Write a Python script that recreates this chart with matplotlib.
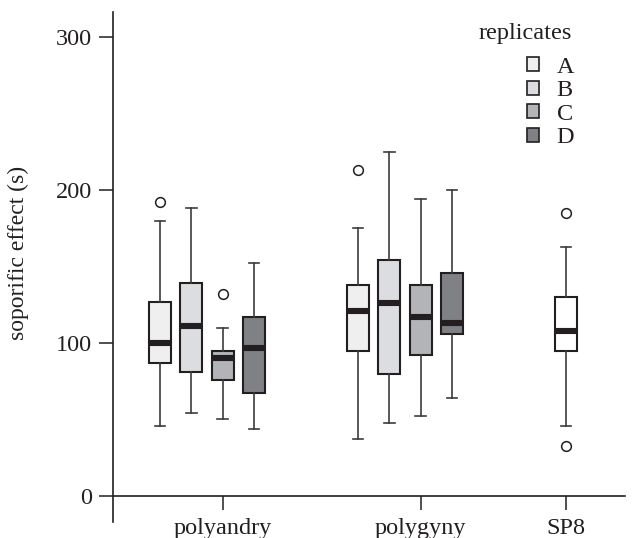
import matplotlib
matplotlib.use("Agg")
import matplotlib.pyplot as plt
from matplotlib.patches import Patch

# ------------------------------
# Data
# ------------------------------

groups = ["polyandry", "polygyny", "SP8"]
replicates = ["A", "B", "C", "D"]
rep_colors = ["#eeefee", "#dcdde0", "#b3b4b7", "#808184"]

# polyandry A-D
poly_a_low = [46, 54, 50, 44]
poly_a_q1 = [87, 81, 76, 67]
poly_a_med = [100, 111, 90, 97]
poly_a_q3 = [127, 139, 95, 117]
poly_a_high = [180, 188, 110, 152]
poly_a_fliers = [[192], [], [132], []]

# polygyny A-D
poly_g_low = [37, 48, 52, 64]
poly_g_q1 = [95, 80, 92, 106]
poly_g_med = [121, 126, 117, 113]
poly_g_q3 = [138, 154, 138, 146]
poly_g_high = [175, 225, 194, 200]
poly_g_fliers = [[213], [], [], []]

# SP8 (single box)
sp8_low = [46]
sp8_q1 = [95]
sp8_med = [108]
sp8_q3 = [130]
sp8_high = [163]
sp8_fliers = [[185, 33]]


def make_stats(low, q1, med, q3, high, fliers):
    return [dict(whislo=l, q1=a, med=m, q3=b, whishi=h, fliers=f)
            for l, a, m, b, h, f in zip(low, q1, med, q3, high, fliers)]


# ------------------------------
# Figure
# ------------------------------

plt.rcParams["font.family"] = ["Liberation Serif", "DejaVu Serif"]
ink = "#231f20"
fs = 17.5

fig = plt.figure(figsize=(6.32, 5.38), dpi=100)
ax = fig.add_axes([0.1788, 0.0297, 0.8102, 0.948])

pos_andry = [0, 1, 2, 3]
pos_gyny = [6.33, 7.33, 8.33, 9.33]
pos_sp8 = [12.97]

box_kw = dict(
    widths=0.70,
    patch_artist=True,
    capwidths=0.34,
    boxprops=dict(edgecolor=ink, linewidth=1.5),
    whiskerprops=dict(color="#3c3c3c", linewidth=1.2),
    capprops=dict(color="#3c3c3c", linewidth=1.2),
    medianprops=dict(color=ink, linewidth=4.4, solid_capstyle="butt"),
    flierprops=dict(marker="o", markerfacecolor="white", markeredgecolor=ink,
                    markersize=7, markeredgewidth=1.1),
    manage_ticks=False,
)

sets = [
    (pos_andry, make_stats(poly_a_low, poly_a_q1, poly_a_med, poly_a_q3,
                           poly_a_high, poly_a_fliers), rep_colors),
    (pos_gyny, make_stats(poly_g_low, poly_g_q1, poly_g_med, poly_g_q3,
                          poly_g_high, poly_g_fliers), rep_colors),
    (pos_sp8, make_stats(sp8_low, sp8_q1, sp8_med, sp8_q3,
                         sp8_high, sp8_fliers), ["white"]),
]
for pos, stats, cols in sets:
    bp = ax.bxp(stats, positions=pos, **box_kw)
    for patch, c in zip(bp["boxes"], cols):
        patch.set_facecolor(c)

# axes styling
ax.set_xlim(-1.5, 14.86)
ax.set_ylim(-17, 316.3)
for s in ["top", "right"]:
    ax.spines[s].set_visible(False)
ax.spines["bottom"].set_position(("data", 0))
for s in ["left", "bottom"]:
    ax.spines[s].set_color(ink)
    ax.spines[s].set_linewidth(1.2)

ax.set_yticks([0, 100, 200, 300])
ax.set_xticks([pos_andry[2], pos_gyny[2], pos_sp8[0]])
ax.set_xticklabels(groups)
ax.tick_params(axis="both", length=10, width=1.1, color=ink,
               labelsize=fs, labelcolor=ink)
ax.tick_params(axis="x", pad=6)
ax.tick_params(axis="y", pad=5)
ax.set_ylabel("soporific effect (s)", fontsize=17, color=ink)
ax.yaxis.set_label_coords(-0.164, 0.527)

# legend: title drawn as text, entries as a plain legend
ax.text(0.896, 0.957, "replicates", transform=ax.transAxes,
        ha="right", va="center", fontsize=fs, color=ink)
handles = [Patch(facecolor=c, edgecolor=ink, linewidth=1.2) for c in rep_colors]
leg = ax.legend(handles, replicates, frameon=False,
                loc="upper right", bbox_to_anchor=(0.92, 0.931),
                fontsize=fs, handlelength=0.5, handleheight=0.5,
                handletextpad=0.72, labelspacing=0.1, borderaxespad=0)
for t in leg.get_texts():
    t.set_color(ink)

fig.savefig("out.png", dpi=100)
